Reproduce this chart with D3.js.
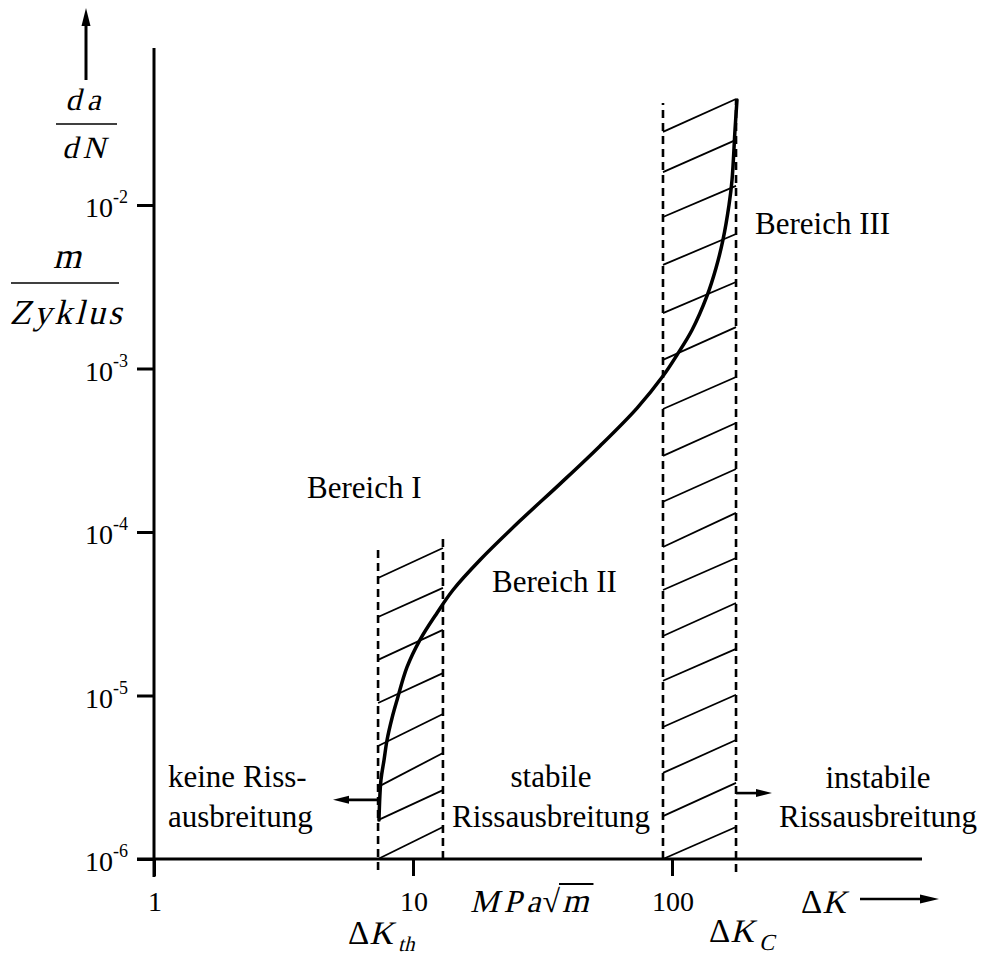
<!DOCTYPE html>
<html><head><meta charset="utf-8">
<script src="https://cdn.jsdelivr.net/npm/d3@7"></script>
<style>
html,body{margin:0;padding:0;background:#fff;}
svg{display:block;}
text{font-family:"Liberation Serif","Times New Roman",serif;fill:#000;}
</style></head><body>
<svg id="chart" width="983" height="956"></svg>
<script>
// ---- data ----
const curveK = [7.39, 7.52, 7.73, 7.94, 8.30, 8.68, 9.48, 10.64, 12.38, 14.27, 18.14, 25.89, 36.96, 52.72, 73.3, 92.3, 104.5, 119.5, 136.5, 147.9, 157.3, 166.0, 170.5, 175.1, 178.2];
const curveRate = [1.73e-6, 3.04e-6, 4.03e-6, 5.34e-6, 7.28e-6, 9.39e-6, 1.49e-5, 2.19e-5, 3.20e-5, 4.42e-5, 6.74e-5, 1.17e-4, 1.97e-4, 3.36e-4, 5.73e-4, 8.99e-4, 1.21e-3, 1.72e-3, 2.78e-3, 4.12e-3, 6.11e-3, 1.0e-2, 1.42e-2, 2.88e-2, 4.39e-2];

const xTicks = [1, 10, 100];
const xTickLabels = ["1", "10", "100"];
const yTicks = [1e-6, 1e-5, 1e-4, 1e-3, 1e-2];
const yTickExponents = ["-6", "-5", "-4", "-3", "-2"];

// band limits (ΔK) and dashed-line extents (da/dN)
const bandI_K = [7.33, 13.05];
const bandIII_K = [92.3, 176.7];
const bandI_leftExtent = [8.56e-7, 8.1e-5];
const bandI_rightExtent = [1.0e-6, 9.19e-5];
const bandIII_leftExtent = [1.0e-6, 4.2e-2];
const bandIII_rightExtent = [8.33e-7, 4.39e-2];

// hatch lines: rate at left end / right end
const hatchI_left = [5.23e-5, 3.02e-5, 1.65e-5, 9.0e-6, 4.91e-6, 2.76e-6, 1.73e-6, 1.0e-6];
const hatchI_right = [7.98e-5, 4.55e-5, 2.52e-5, 1.37e-5, 7.70e-6, 4.45e-6, 2.64e-6, 1.57e-6];
const hatchIII_left = [2.80e-2, 1.59e-2, 8.45e-3, 4.30e-3, 2.18e-3, 1.13e-3, 5.65e-4, 2.92e-4, 1.53e-4, 8.1e-5, 4.42e-5, 2.31e-5, 1.23e-5, 6.42e-6, 3.36e-6, 1.83e-6, 1.0e-6];
const hatchIII_right = [4.45e-2, 2.50e-2, 1.31e-2, 6.65e-3, 3.38e-3, 1.79e-3, 8.87e-4, 4.64e-4, 2.43e-4, 1.31e-4, 6.93e-5, 3.68e-5, 1.93e-5, 1.01e-5, 5.34e-6, 2.92e-6, 1.57e-6];

// annotation arrows: [K from, K to, rate]
const arrowNoGrowth = [7.33, 4.91, 2.30e-6];
const arrowUnstable = [176.7, 243.3, 2.53e-6];

// ---- drawing ----
const svg = d3.select("#chart");
const x = d3.scaleLog().domain([1, 100]).range([154, 672]);
const y = d3.scaleLog().domain([1e-6, 1e-2]).range([859, 205]);
const axX = 154, axY = 859;
const SKEW = -14;

// text helper: sequence of pieces, italic via skew of upright serif
function seq(x0, y0, pieces, anchor) {
  const g = svg.append("g");
  let cx = 0;
  const placed = [];
  pieces.forEach(p => {
    const holder = g.append("g");
    const t = holder.append("text").attr("x", 0).attr("y", 0)
      .attr("font-size", p.size).text(p.t);
    if (p.ls) t.attr("letter-spacing", p.ls);
    const w = t.node().getComputedTextLength();
    cx += (p.dx || 0);
    const py = p.dy || 0;
    holder.attr("transform", `translate(${cx},${py})` + (p.italic ? ` skewX(${SKEW})` : ""));
    placed.push({start: cx, end: cx + w});
    cx += w;
  });
  let shift = 0;
  if (anchor === "middle") shift = -cx / 2;
  if (anchor === "end") shift = -cx;
  g.attr("transform", `translate(${x0 + shift},${y0})`);
  return placed.map(p => ({start: p.start + x0 + shift, end: p.end + x0 + shift}));
}

// axes lines
svg.append("line").attr("x1", axX).attr("x2", axX).attr("y1", 48).attr("y2", 877)
  .attr("stroke", "#000").attr("stroke-width", 3);
svg.append("line").attr("x1", 137).attr("x2", 922).attr("y1", axY).attr("y2", axY)
  .attr("stroke", "#000").attr("stroke-width", 3);

const yAxis = svg.append("g").attr("transform", `translate(${axX},0)`)
  .call(d3.axisLeft(y).tickValues(yTicks).tickSize(17).tickFormat(""));
yAxis.select(".domain").remove();
yAxis.selectAll(".tick line").attr("stroke", "#000").attr("stroke-width", 3);

const xAxis = svg.append("g").attr("transform", `translate(0,${axY})`)
  .call(d3.axisBottom(x).tickValues(xTicks).tickSize(17).tickFormat(""));
xAxis.select(".domain").remove();
xAxis.selectAll(".tick line").attr("stroke", "#000").attr("stroke-width", 3);

// y tick labels
yTicks.forEach((v, i) => {
  const t = svg.append("text").attr("x", 128).attr("y", y(v) + 12)
    .attr("text-anchor", "end").attr("font-size", 28);
  t.append("tspan").text("10");
  t.append("tspan").attr("dy", -14).attr("font-size", 18).text(yTickExponents[i]);
});
// x tick labels
xTicks.forEach((v, i) => {
  svg.append("text").attr("x", x(v) + 1).attr("y", 911).attr("text-anchor", "middle")
    .attr("font-size", 28).text(xTickLabels[i]);
});

// dashed band limits
function dashed(k, ext) {
  svg.append("line").attr("x1", x(k)).attr("x2", x(k)).attr("y1", y(ext[0])).attr("y2", y(ext[1]))
    .attr("stroke", "#000").attr("stroke-width", 2.6).attr("stroke-dasharray", "8,5");
}
dashed(bandI_K[0], bandI_leftExtent);
dashed(bandI_K[1], bandI_rightExtent);
dashed(bandIII_K[0], bandIII_leftExtent);
dashed(bandIII_K[1], bandIII_rightExtent);

// hatching
function hatch(band, left, right) {
  svg.append("g").selectAll("line").data(left).join("line")
    .attr("x1", x(band[0])).attr("x2", x(band[1]))
    .attr("y1", d => y(d)).attr("y2", (d, i) => y(right[i]))
    .attr("stroke", "#000").attr("stroke-width", 1.8);
}
hatch(bandI_K, hatchI_left, hatchI_right);
hatch(bandIII_K, hatchIII_left, hatchIII_right);

// curve
const pts = curveK.map((k, i) => [x(k), y(curveRate[i])]);
svg.append("path").attr("d", d3.line().curve(d3.curveCatmullRom.alpha(0.5))(pts))
  .attr("fill", "none").attr("stroke", "#000").attr("stroke-width", 3.5)
  .attr("stroke-linecap", "round");

// arrows
function hArrow(a) {
  const x1 = x(a[0]), x2 = x(a[1]), yy = y(a[2]);
  const dir = Math.sign(x2 - x1);
  svg.append("line").attr("x1", x1).attr("x2", x2 - dir * 12).attr("y1", yy).attr("y2", yy)
    .attr("stroke", "#000").attr("stroke-width", 2.6);
  svg.append("path").attr("d", `M${x2},${yy}L${x2 - dir * 16},${yy - 4}L${x2 - dir * 16},${yy + 4}Z`).attr("fill", "#000");
}
hArrow(arrowNoGrowth);
hArrow(arrowUnstable);

// top axis arrow
svg.append("line").attr("x1", 86).attr("x2", 86).attr("y1", 80).attr("y2", 22)
  .attr("stroke", "#000").attr("stroke-width", 3);
svg.append("path").attr("d", "M86,8L81.5,26L90.5,26Z").attr("fill", "#000");

// ΔK arrow
svg.append("line").attr("x1", 860).attr("x2", 926).attr("y1", 899).attr("y2", 899)
  .attr("stroke", "#000").attr("stroke-width", 2.6);
svg.append("path").attr("d", "M939,899L920,894.5L920,903.5Z").attr("fill", "#000");

// y-axis label: da/dN and m/Zyklus
seq(86, 110, [{t: "da", italic: true, size: 31, ls: 6}], "middle");
svg.append("line").attr("x1", 56).attr("x2", 117).attr("y1", 124).attr("y2", 124)
  .attr("stroke", "#000").attr("stroke-width", 1.6);
seq(86, 158, [{t: "dN", italic: true, size: 31, ls: 5}], "middle");

seq(67, 268, [{t: "m", italic: true, size: 36}], "middle");
svg.append("line").attr("x1", 11).attr("x2", 119).attr("y1", 283).attr("y2", 283)
  .attr("stroke", "#000").attr("stroke-width", 1.6);
seq(67, 324, [{t: "Zyklus", italic: true, size: 35, ls: 3}], "middle");

// unit MPa√m
const unit = seq(470, 912, [
  {t: "MPa", italic: true, size: 32, ls: 5},
  {t: "√", size: 32, dx: -3},
  {t: "m", italic: true, size: 34, dx: 2}
], "start");
svg.append("line").attr("x1", unit[1].end - 1).attr("x2", unit[2].end + 5).attr("y1", 884).attr("y2", 884)
  .attr("stroke", "#000").attr("stroke-width", 2);

// ΔK labels
function deltaK(xp, yp, sub, subSize, subDy) {
  const parts = [{t: "Δ", size: 33}, {t: "K", italic: true, size: 33}];
  if (sub) parts.push({t: sub, italic: true, size: subSize, dy: subDy, dx: 5});
  seq(xp, yp, parts, "start");
}
deltaK(801, 913, "", 0, 0);
deltaK(348, 944, "th", 21, 7);
deltaK(709, 942, "C", 23, 8);

// region labels
const fs = 31;
svg.append("text").attr("x", 307).attr("y", 498).attr("font-size", fs).text("Bereich I");
svg.append("text").attr("x", 492).attr("y", 592).attr("font-size", fs).text("Bereich II");
svg.append("text").attr("x", 755).attr("y", 234).attr("font-size", fs).text("Bereich III");

svg.append("text").attr("x", 168).attr("y", 787).attr("font-size", fs).text("keine Riss-");
svg.append("text").attr("x", 168).attr("y", 827).attr("font-size", fs).text("ausbreitung");
svg.append("text").attr("x", 551).attr("y", 787).attr("font-size", fs).attr("text-anchor", "middle").text("stabile");
svg.append("text").attr("x", 551).attr("y", 827).attr("font-size", fs).attr("text-anchor", "middle").text("Rissausbreitung");
svg.append("text").attr("x", 878).attr("y", 788).attr("font-size", fs).attr("text-anchor", "middle").text("instabile");
svg.append("text").attr("x", 878).attr("y", 827).attr("font-size", fs).attr("text-anchor", "middle").text("Rissausbreitung");
</script>
</body></html>
